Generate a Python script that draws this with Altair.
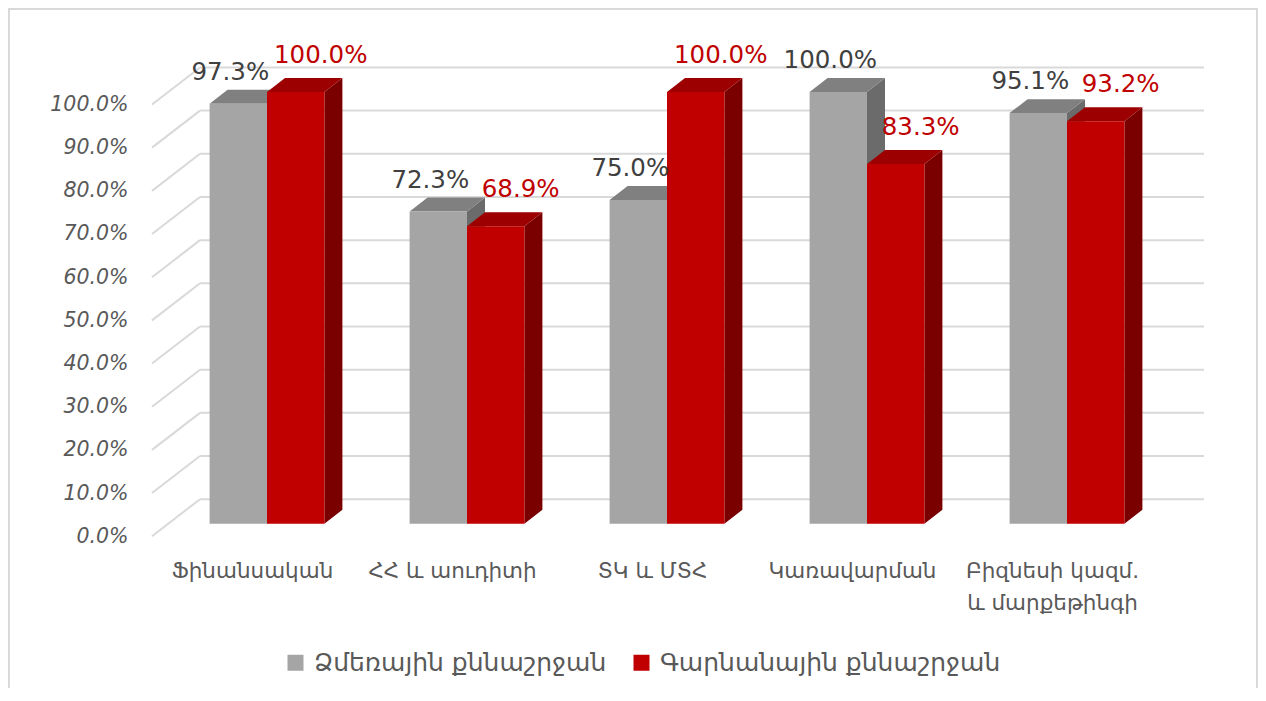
import json
import altair as alt
import pandas as pd

# ---------------- data ----------------
categories = ["Ֆինանսական", "ՀՀ և աուդիտի", "ՏԿ և ՄՏՀ", "Կառավարման", "Բիզնեսի կազմ. և մարքեթինգի"]
category_lines = [["Ֆինանսական"], ["ՀՀ և աուդիտի"], ["ՏԿ և ՄՏՀ"], ["Կառավարման"],
                  ["Բիզնեսի կազմ.", "և մարքեթինգի"]]
series_names = ["Ձմեռային քննաշրջան", "Գարնանային քննաշրջան"]
winter = [97.3, 72.3, 75.0, 100.0, 95.1]
spring = [100.0, 68.9, 100.0, 83.3, 93.2]
y_ticks = [0, 10, 20, 30, 40, 50, 60, 70, 80, 90, 100]

# ---------------- style / geometry ----------------
FONT = "DejaVu Sans"
BAR_W = 0.287      # width of one front face, in category units
DX, DY = 0.09, 3.24  # bar depth (x units, y units)
BACK, FRONT = 5.68, -2.9  # wall / floor front offsets in y units
GX0, GX1, GX2 = -0.575, -0.335, 4.685
front_cols = ["#A5A5A5", "#C00000"]
side_cols = ["#6B6B6B", "#7A0000"]
top_cols = ["#808080", "#9C0000"]

rows, side_rows, top_rows = [], [], []
for s, vals in enumerate([winter, spring]):
    for i, v in enumerate(vals):
        x0 = i - BAR_W if s == 0 else i
        x1 = i if s == 0 else i + BAR_W
        bid = f"{s}-{i}"
        rows.append(dict(bid=bid, series=series_names[s], x0=x0, x1=x1, xc=(x0 + x1) / 2, v=v, vt=v + DY))
        side_rows.append(dict(bid=bid, series=series_names[s], xs=x1, lo=0.0, hi=v))
        side_rows.append(dict(bid=bid, series=series_names[s], xs=x1 + DX, lo=DY, hi=v + DY))
        top_rows.append(dict(bid=bid, series=series_names[s], yt=v, a=x0, b=x1))
        top_rows.append(dict(bid=bid, series=series_names[s], yt=v + DY, a=x0 + DX, b=x1 + DX))
bars = pd.DataFrame(rows)
sides = pd.DataFrame(side_rows)
tops = pd.DataFrame(top_rows)
grid = pd.DataFrame({"t": y_ticks})

X_SCALE = alt.Scale(domain=[GX0, GX2], nice=False, zero=False)
Y_SCALE = alt.Scale(domain=[-4, 116.9], nice=False, zero=False)
X_AX = alt.Axis(values=list(range(len(categories))),
                labelExpr=json.dumps(category_lines, ensure_ascii=False) + "[datum.value]",
                domain=False, ticks=False, tickSize=0, grid=False, title=None,
                labelFont=FONT, labelFontSize=21.5, labelColor="#595959",
                labelPadding=19, labelOffset=-15, labelLineHeight=32,
                labelFlush=False, labelOverlap=False, labelBound=False)
Y_AX = alt.Axis(values=y_ticks, labelExpr="format(datum.value, '.1f') + '%'",
                domain=False, ticks=False, tickSize=0, grid=False, title=None,
                labelFont=FONT, labelFontSize=20.5, labelFontStyle="italic",
                labelColor="#595959", labelPadding=24, labelOffset=12.5,
                labelOverlap=False, labelBound=False)

def X(f):
    return alt.X(f, type="quantitative", scale=X_SCALE, axis=X_AX)

def Y(f):
    return alt.Y(f, type="quantitative", scale=Y_SCALE, axis=Y_AX, stack=None)

# gridlines: back wall + floor diagonals
grid_h = alt.Chart(grid).transform_calculate(
    yb=f"datum.t + {BACK}", gx1=f"{GX1}", gx2=f"{GX2}").mark_rule(
    color="#D9D9D9", strokeWidth=2).encode(x=X("gx1:Q"), x2="gx2:Q", y=Y("yb:Q"))
grid_d = alt.Chart(grid).transform_calculate(
    yb=f"datum.t + {BACK}", yf=f"datum.t + {FRONT}", gx0=f"{GX0}", gx1=f"{GX1}").mark_rule(
    color="#D9D9D9", strokeWidth=2).encode(x=X("gx0:Q"), x2="gx1:Q", y=Y("yf:Q"), y2="yb:Q")

side = alt.Chart(sides).mark_area(orient="vertical").encode(
    x=X("xs:Q"), y=Y("hi:Q"), y2="lo:Q", detail="bid:N",
    color=alt.Color("series:N", scale=alt.Scale(domain=series_names, range=side_cols), legend=None))

top = alt.Chart(tops).mark_area(orient="horizontal").encode(
    y=Y("yt:Q"), x=X("a:Q"), x2="b:Q", detail="bid:N",
    color=alt.Color("series:N", scale=alt.Scale(domain=series_names, range=top_cols), legend=None))

front = alt.Chart(bars).mark_rect().encode(
    x=X("x0:Q"), x2="x1:Q", y=Y("v:Q"), y2=alt.datum(0),
    color=alt.Color("series:N", scale=alt.Scale(domain=series_names, range=front_cols),
                    legend=alt.Legend(title=None, orient="none", legendX=131, legendY=631,
                                      direction="horizontal", symbolType="square",
                                      symbolSize=256, symbolStrokeWidth=0,
                                      labelFont=FONT, labelFontSize=25, labelColor="#595959",
                                      labelOffset=6, columnPadding=22, labelLimit=600)))

lab_g = alt.Chart(bars).transform_filter(alt.datum.series == series_names[0]).transform_calculate(
    lbl="format(datum.v, '.1f') + '%'").mark_text(
    font=FONT, fontSize=24.5, color="#404040", baseline="middle", dx=-8, dy=-17).encode(
    x=X("xc:Q"), y=Y("vt:Q"), text="lbl:N")
lab_r = alt.Chart(bars).transform_filter(alt.datum.series == series_names[1]).transform_calculate(
    lbl="format(datum.v, '.1f') + '%'").mark_text(
    font=FONT, fontSize=24.5, color="#C00000", baseline="middle", dx=25, dy=-22).encode(
    x=X("xc:Q"), y=Y("vt:Q"), text="lbl:N")

frame = alt.Chart(pd.DataFrame({"k": [0]})).mark_rect(
    fill=None, stroke="#D9D9D9", strokeWidth=2).encode(
    x=alt.value(-143), x2=alt.value(1105), y=alt.value(-10), y2=alt.value(700))

chart = alt.layer(frame, grid_h, grid_d, side, top, front, lab_g, lab_r).resolve_scale(
    color="independent").properties(
    width=1052, height=522,
    autosize=alt.AutoSizeParams(type="none"),
    padding={"left": 144, "top": 11, "right": 54, "bottom": 147},
).configure(background="white", view=alt.ViewConfig(stroke=None))

chart.save("out.html", embed_options={"renderer": "svg", "actions": False})
